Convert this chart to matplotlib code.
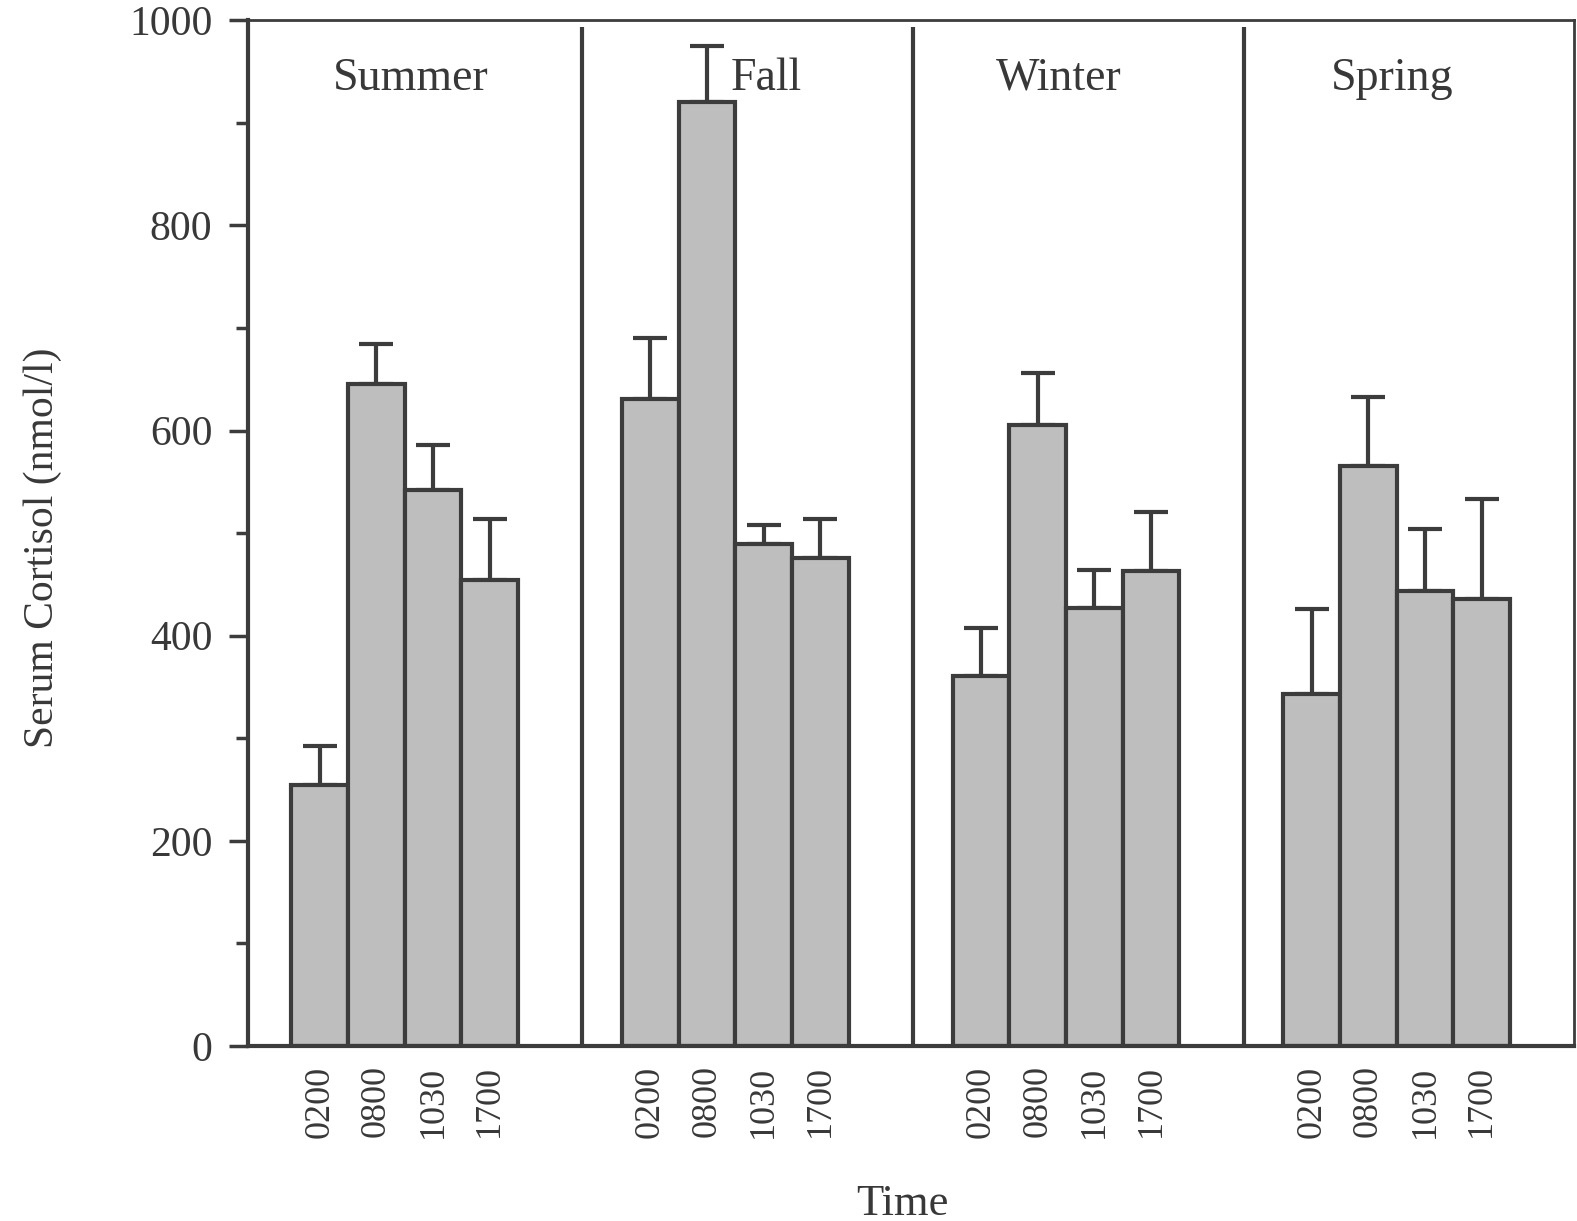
import matplotlib
matplotlib.use('Agg')
import matplotlib.pyplot as plt
from matplotlib.ticker import MultipleLocator
import numpy as np

seasons = ['Summer', 'Fall', 'Winter', 'Spring']
times = ['0200', '0800', '1030', '1700']

# mean serum cortisol (nmol/l) per season, one value per sampling time
summer = [254, 645, 542, 454]
fall = [631, 920, 489, 476]
winter = [361, 605, 427, 463]
spring = [343, 565, 444, 436]

# upper error (SE) above each bar
summer_err = [38, 39, 44, 60]
fall_err = [59, 55, 19, 38]
winter_err = [46, 51, 37, 58]
spring_err = [83, 68, 60, 97]

means = [summer, fall, winter, spring]
errs = [summer_err, fall_err, winter_err, spring_err]

plt.rcParams['font.family'] = ['Liberation Serif', 'DejaVu Serif']
edge = '#3c3c3c'
txt = '#383838'

fig = plt.figure(figsize=(15.77, 12.21), dpi=100)
ax = fig.add_axes([0.1575, 0.1433, 0.8405, 0.8402])

group_start = 0.76
group_step = 5.84
xs = []
labels = []
for g in range(4):
    start = group_start + group_step * g
    x = start + 0.5 + np.arange(4)
    ax.bar(x, means[g], width=1.0, color='#bebebe', edgecolor=edge, linewidth=3, zorder=2)
    ax.errorbar(x, means[g], yerr=[np.zeros(4), errs[g]], fmt='none', ecolor=edge,
                elinewidth=3, capsize=12, capthick=3, zorder=1)
    xs.extend(x)
    labels.extend(times)
    if g > 0:
        ax.vlines(start - 0.7, 0, 993, color=edge, linewidth=3, zorder=3)

label_x = [2.86, 9.15, 14.32, 20.21]
for lx, name in zip(label_x, seasons):
    ax.text(lx, 943, name, ha='center', va='center', fontsize=33, color=txt)

ax.set_xlim(0, 23.41)
ax.set_ylim(0, 1000)
ax.set_xticks(xs)
ax.set_xticklabels(labels, rotation=90, fontsize=26, color=txt)
ax.tick_params(axis='x', length=0, pad=14)
ax.yaxis.set_major_locator(MultipleLocator(200))
ax.yaxis.set_minor_locator(MultipleLocator(100))
ax.tick_params(axis='y', which='major', length=14, width=2.5, pad=12,
               labelsize=30, color=edge, labelcolor=txt)
ax.tick_params(axis='y', which='minor', length=9, width=2.5, color=edge)

for side in ['left', 'bottom']:
    ax.spines[side].set_linewidth(3)
    ax.spines[side].set_color(edge)
for side in ['top', 'right']:
    ax.spines[side].set_linewidth(2)
    ax.spines[side].set_color(edge)

fig.text(0.0268, 0.551, 'Serum Cortisol (nmol/l)', rotation=90, ha='center', va='center',
         fontsize=30, color=txt)
fig.text(0.572, 0.005, 'Time', ha='center', va='baseline', fontsize=32, color=txt)

fig.savefig('out.png', dpi=100)
